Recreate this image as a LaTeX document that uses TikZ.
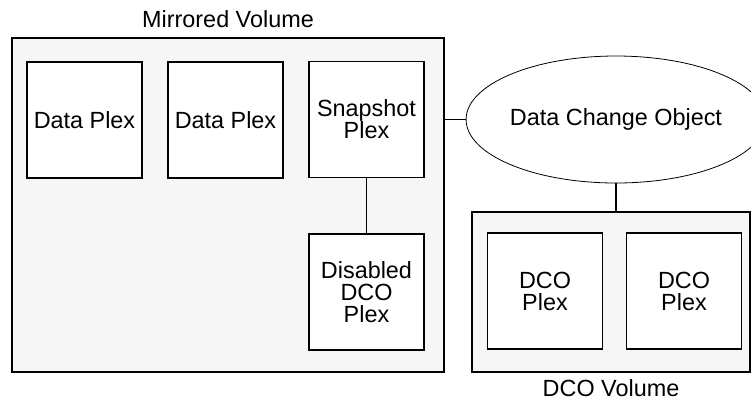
\documentclass[tikz,border=0pt]{standalone}
\usepackage{fontspec}
\setmainfont{Liberation Sans}
\usetikzlibrary{shapes.geometric}
\definecolor{volfill}{HTML}{F6F6F6}
\begin{document}
\begin{tikzpicture}[x=0.5pt,y=-0.5pt,
  every node/.style={font=\fontsize{11.7}{11}\selectfont},
  volbox/.style={draw, fill=volfill, line width=0.7pt, inner sep=0pt},
  plexbox/.style={draw, fill=white, line width=0.55pt, minimum width=57.5pt, minimum height=58pt, inner sep=0pt, align=center},
  dcoell/.style={draw, fill=white, ellipse, line width=0.4pt, minimum width=131pt, minimum height=63.5pt, inner sep=0pt},
  link/.style={draw, line width=0.55pt},
  caption/.style={inner sep=0pt}
]
\useasboundingbox (0,0) rectangle (751,404);
% volumes
\node[volbox, minimum width=216pt, minimum height=167pt] (mv) at (228,205) {};
\node[volbox, minimum width=139pt, minimum height=80pt] (dv) at (611,292) {};
% plexes
\node[plexbox] (dp1) at (84.5,120) {Data Plex};
\node[plexbox] (dp2) at (225.5,120) {Data Plex};
\node[plexbox] (sp) at (366.5,119.5) {Snapshot\\Plex};
\node[plexbox] (dis) at (366.5,292) {Disabled\\DCO\\Plex};
\node[plexbox] (dc1) at (545,291) {DCO\\Plex};
\node[plexbox] (dc2) at (684,291) {DCO\\Plex};
% data change object
\node[dcoell] (dco) at (616,119.5) {Data Change Object};
% captions
\node[caption] (mvt) at (228,19) {Mirrored Volume};
\node[caption] (dvt) at (611,388) {DCO Volume};
% connectors
\draw[link] (sp.south) -- (dis.north);
\draw[link] (mv.east |- dco.west) -- (dco.west);
\draw[link] (dco.south) -- (dco.south |- dv.north);
\end{tikzpicture}
\end{document}
